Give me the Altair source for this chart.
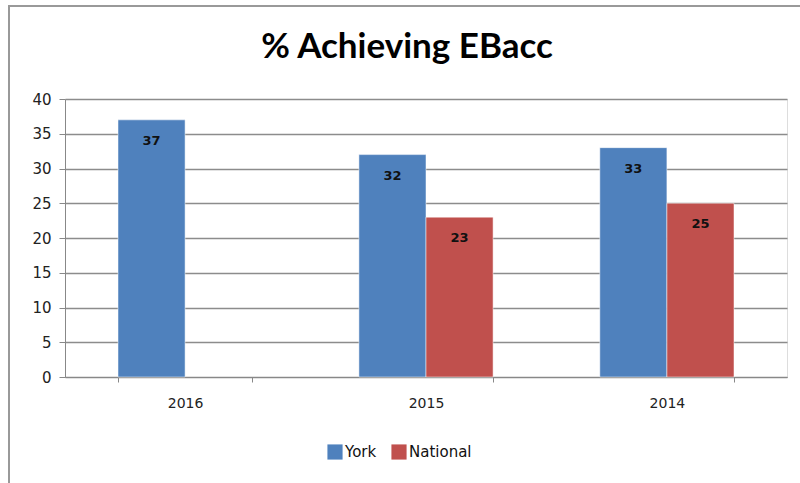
import altair as alt
import pandas as pd

years = ["2016", "2015", "2014"]
york = [37, 32, 33]
national = [None, 23, 25]
series = ["York", "National"]
colors = ["#4F81BD", "#C0504D"]
title_text = "% Achieving EBacc"

rows = []
for y, a, b in zip(years, york, national):
    rows.append({"year": y, "series": "York", "value": a})
    if b is not None:
        rows.append({"year": y, "series": "National", "value": b})
df = pd.DataFrame(rows)

W, H = 722, 278
FONT = "DejaVu Sans"

x = alt.X("year:N", sort=years, title=None,
          scale=alt.Scale(paddingInner=0.443, paddingOuter=0.22),
          axis=alt.Axis(labelAngle=0, tickBand="extent", labelFont=FONT, labelFontSize=14,
                        labelColor="#222", labelPadding=14, tickSize=5, tickColor="#888",
                        domainColor="#888", grid=False))
xoff = alt.XOffset("series:N", sort=series)
yenc = alt.Y("value:Q", title=None,
             scale=alt.Scale(domain=[0, 40], nice=False),
             axis=alt.Axis(values=[0, 5, 10, 15, 20, 25, 30, 35, 40], labelFont=FONT,
                           labelFontSize=15, labelColor="#222", tickSize=6, labelPadding=8,
                           labelOverlap=False, tickColor="#888", domainColor="#888",
                           gridColor="#8c8c8c", gridWidth=1.3))
color = alt.Color("series:N", sort=series,
                  scale=alt.Scale(domain=series, range=colors),
                  legend=alt.Legend(title=None, orient="none", direction="horizontal",
                                    legendX=262, legendY=345, symbolType="square",
                                    symbolSize=230, symbolStrokeWidth=0, labelFont=FONT,
                                    labelFontSize=15, labelColor="#111", columnPadding=14,
                                    labelOffset=2))

bars = alt.Chart(df).mark_bar(stroke="white", strokeWidth=0.5).encode(
    x=x, xOffset=xoff, y=yenc, color=color)

labels = alt.Chart(df).mark_text(baseline="middle", dy=21, fontWeight="bold", font=FONT,
                                 fontSize=13, color="#111").encode(
    x=x, xOffset=xoff, y=yenc, text="value:Q")

frame = alt.Chart(df).mark_rect(fill=None, stroke="#999", strokeWidth=1.5).encode(
    x=alt.value(-56), x2=alt.value(W + 40), y=alt.value(-93), y2=alt.value(H + 130))

title = alt.Chart(pd.DataFrame({"t": [title_text]})).mark_text(
    font="Lato", fontSize=35, fontWeight="bold", color="#000", align="center",
    baseline="alphabetic").encode(x=alt.value(342), y=alt.value(-41), text="t:N")

chart = alt.layer(bars, labels, frame, title).properties(
    width=W, height=H,
    autosize=alt.AutoSizeParams(type="none"),
    padding={"left": 65, "top": 99, "right": 13, "bottom": 106},
).configure_view(stroke=None).configure(background="white")

chart.save("out.html", embed_options={"renderer": "svg", "actions": False})
